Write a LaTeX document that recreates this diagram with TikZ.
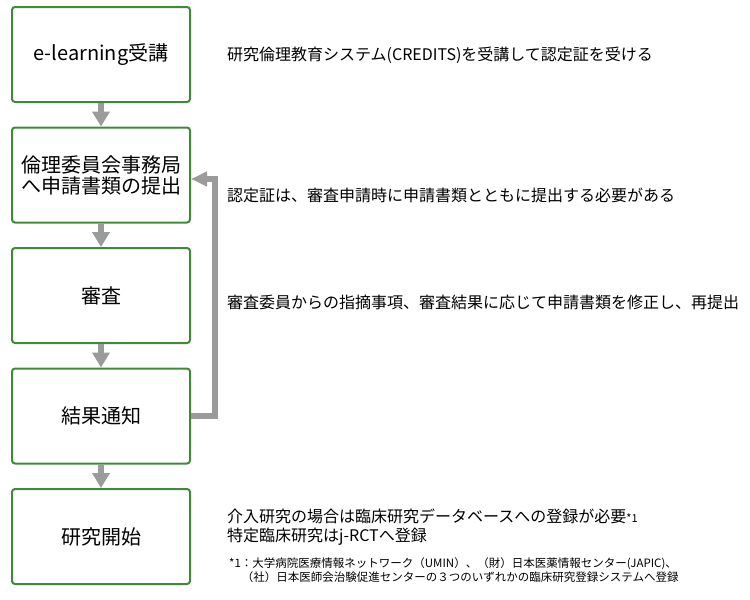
\documentclass[tikz,border=0pt]{standalone}
\usepackage{fontspec}
\setmainfont{Noto Sans CJK JP}
\usetikzlibrary{positioning , arrows.meta}
\definecolor{boxgreen}{HTML}{3D8B37}
\definecolor{flowgray}{HTML}{9B9B9B}

\begin{document}
\begin{tikzpicture}[x = 1pt , y = -1pt ,
    stepbox/.style = {draw = boxgreen , line width = 2pt , rounded corners = 3pt , fill = white , minimum width = 178pt , minimum height = 95pt , align = center , inner sep = 0pt , font = \fontsize{20}{21}\selectfont},
    flow/.style = {draw = flowgray , line width = 6.5pt , -{Triangle[width = 17pt , length = 15pt]}},
    back/.style = {draw = flowgray , line width = 5.5pt , line join = miter , -{Triangle[width = 14pt , length = 16pt]}},
    note/.style = {anchor = west , align = left , inner sep = 0pt , font = \fontsize{16}{19}\selectfont}]
    \useasboundingbox (0,0) rectangle (750,600);

    % Boxes
    \node[stepbox] (elearn) at (101, 54.5) {e-learning受講};
    \node[stepbox , below = 23.5pt of elearn] (submit) {倫理委員会事務局\\へ申請書類の提出};
    \node[stepbox , below = 23.5pt of submit] (review) {審査};
    \node[stepbox , below = 23.5pt of review] (notify) {結果通知};
    \node[stepbox , below = 23.5pt of notify] (start) {研究開始};

    % Arrows
    \draw[flow] (elearn) -- (submit);
    \draw[flow] (submit) -- (review);
    \draw[flow] (review) -- (notify);
    \draw[flow] (notify) -- (start);
    \coordinate (turn) at (215, 179);
    \draw[back] (notify.east) -| (turn) -- (turn -| submit.east);

    % Notes
    \node[note] (credits) at (227, 55) {研究倫理教育システム(CREDITS)を受講して認定証を受ける};
    \node[note] (certif) at (227, 195) {認定証は、審査申請時に申請書類とともに提出する必要がある};
    \node[note] (revise) at (227, 302) {審査委員からの指摘事項、審査結果に応じて申請書類を修正し、再提出};
    \node[note] (regist) at (227, 527) {介入研究の場合は臨床研究データベースへの登録が必要{\fontsize{11}{13}\selectfont *1}\\特定臨床研究はj-RCTへ登録};
    \node[note , font = \fontsize{11.5}{14.5}\selectfont] (footnote) at (229, 570) {*1：大学病院医療情報ネットワーク（UMIN）、（財）日本医薬情報センター(JAPIC)、\\\hspace*{1.1em}（社）日本医師会治験促進センターの３つのいずれかの臨床研究登録システムへ登録};
\end{tikzpicture}
\end{document}
